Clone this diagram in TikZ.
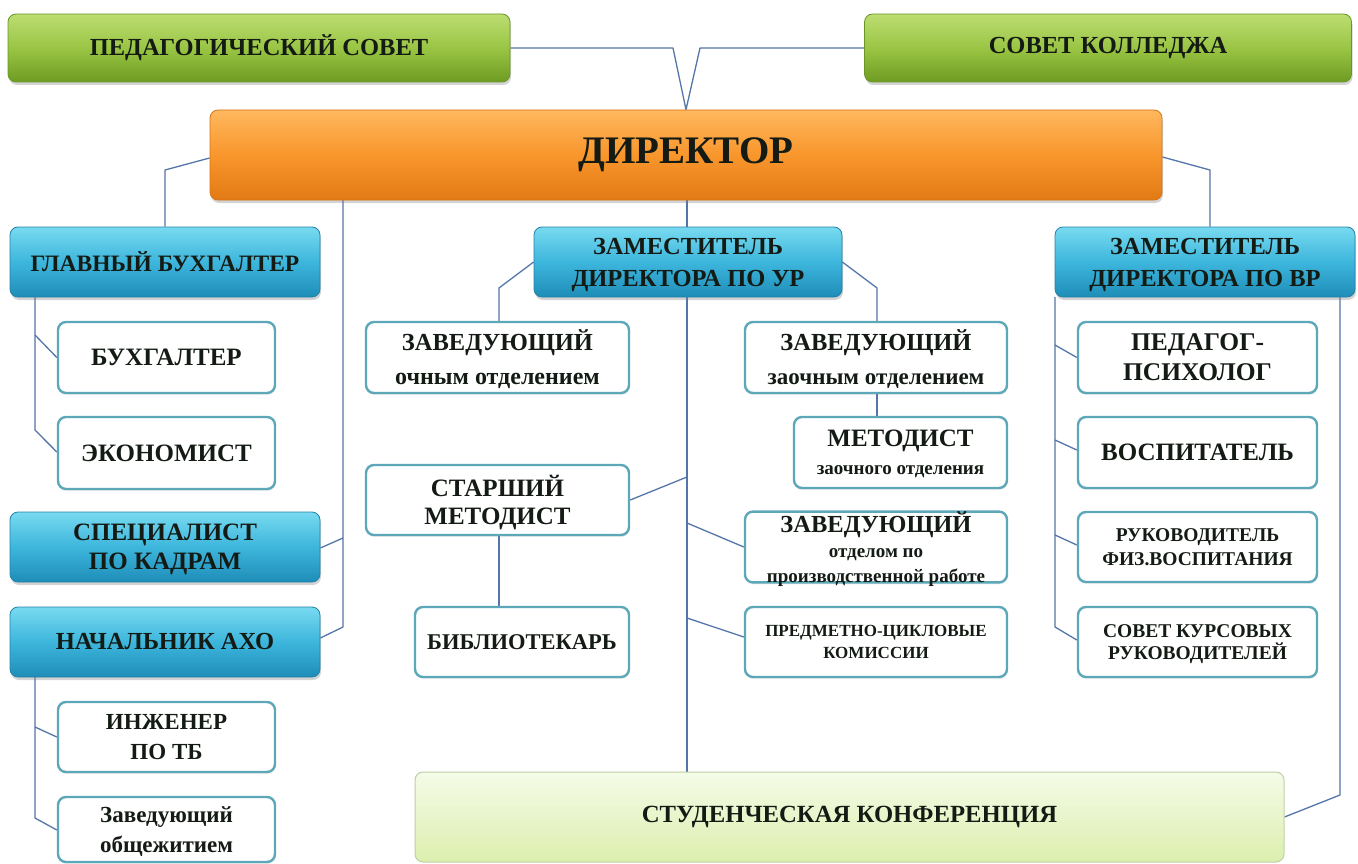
\documentclass[tikz,border=0pt]{standalone}
\usepackage{fontspec}
\setmainfont{Liberation Serif}
\usetikzlibrary{shadows}
\pgfdeclarelayer{background}
\pgfsetlayers{background,main}
\definecolor{ln}{HTML}{5475A8}
\definecolor{txt}{HTML}{141A14}
\definecolor{gT}{HTML}{BCDD72}
\definecolor{gM}{HTML}{9AC544}
\definecolor{gB}{HTML}{6E9C22}
\definecolor{gD}{HTML}{6A9628}
\definecolor{oT}{HTML}{FFB85E}
\definecolor{oM}{HTML}{F8962C}
\definecolor{oB}{HTML}{E27A14}
\definecolor{oD}{HTML}{D47418}
\definecolor{bT}{HTML}{78DAF0}
\definecolor{bM}{HTML}{3DB6DC}
\definecolor{bB}{HTML}{1E8DB8}
\definecolor{bD}{HTML}{2482A8}
\definecolor{wD}{HTML}{5CA8B8}
\definecolor{sT}{HTML}{F5FBE8}
\definecolor{sB}{HTML}{DCEFAE}
\definecolor{sD}{HTML}{BFCFA4}
\newcommand{\fs}[2]{\fontsize{#1}{#2}\selectfont}
\tikzset{
  conn/.style={draw=ln, line width=1.3pt, line join=round},
  base/.style={rounded corners=8pt, inner sep=0pt, align=center, text=txt},
  greenbox/.style={base, top color=gT, bottom color=gB, middle color=gM, draw=gD, line width=0.8pt,
    drop shadow={shadow xshift=1pt, shadow yshift=-3pt, opacity=0.35}},
  orangebox/.style={base, top color=oT, bottom color=oB, middle color=oM, draw=oD, line width=0.8pt,
    drop shadow={shadow xshift=1pt, shadow yshift=-3pt, opacity=0.35}},
  bluebox/.style={base, top color=bT, bottom color=bB, middle color=bM, draw=bD, line width=0.8pt,
    drop shadow={shadow xshift=1pt, shadow yshift=-3pt, opacity=0.35}},
  whitebox/.style={base, fill=white, draw=wD, line width=2.4pt,
    drop shadow={shadow xshift=0.5pt, shadow yshift=-2pt, opacity=0.15}},
  studbox/.style={base, top color=sT, bottom color=sB, draw=sD, line width=1pt},
  f/.style 2 args={font=\bfseries\fs{#1}{#2}},
  ml/.style={text depth=0pt},
}
\begin{document}
\begin{tikzpicture}[x=1pt,y=-1pt]
\useasboundingbox (0,0) rectangle (1358,864);
\coordinate (v1) at (673,48);
\coordinate (v2) at (700,48);
\coordinate (dlk) at (165,170);
\coordinate (drk) at (1210,170);
\coordinate (db) at (343,200);
\coordinate (dbs) at (343,538);
\coordinate (dba) at (343,627);
\coordinate (cb) at (687,200);
\coordinate (c1) at (687,477);
\coordinate (c2) at (687,523);
\coordinate (c3) at (687,618);
\coordinate (gl0) at (35,297);
\coordinate (gl1) at (35,335);
\coordinate (gl2) at (35,430);
\coordinate (al0) at (35,677);
\coordinate (al1) at (35,727);
\coordinate (al2) at (35,818);
\coordinate (zl) at (499,288);
\coordinate (zr) at (877,288);
\coordinate (vl0) at (1055,297);
\coordinate (vl1) at (1055,345);
\coordinate (vl2) at (1055,440);
\coordinate (vl3) at (1055,535);
\coordinate (vl4) at (1055,627);
\coordinate (vr0) at (1340,297);
\coordinate (vr1) at (1340,795);

\node[greenbox, f={24.5}{28}, minimum width=502pt, minimum height=68pt] (ped) at (259,48) {ПЕДАГОГИЧЕСКИЙ СОВЕТ};
\node[greenbox, f={24.5}{28}, minimum width=487pt, minimum height=68pt] (sovk) at (1108,48) {СОВЕТ КОЛЛЕДЖА};
\node[orangebox, f={39}{42}, minimum width=952pt, minimum height=90pt] (dir) at (686,155) {ДИРЕКТОР};

\node[bluebox, f={23.5}{26}, minimum width=310pt, minimum height=70pt] (glb) at (165,262) {ГЛАВНЫЙ БУХГАЛТЕР};
\node[whitebox, f={25}{28}, minimum width=217pt, minimum height=71pt] (buh) at (166.5,357.5) {БУХГАЛТЕР};
\node[whitebox, f={25}{28}, minimum width=217pt, minimum height=72pt] (eco) at (166.5,453) {ЭКОНОМИСТ};
\node[bluebox, ml, f={25}{29}, minimum width=310pt, minimum height=70pt] (spec) at (165,547) {СПЕЦИАЛИСТ\\ПО КАДРАМ};
\node[bluebox, f={24.5}{28}, minimum width=310pt, minimum height=70pt] (aho) at (165,642) {НАЧАЛЬНИК АХО};
\node[whitebox, ml, f={23}{30}, minimum width=217pt, minimum height=70pt] (ing) at (166.5,737) {ИНЖЕНЕР\\ПО ТБ};
\node[whitebox, ml, f={23}{30}, minimum width=217pt, minimum height=65pt] (obsh) at (166.5,829.5) {Заведующий\\общежитием};

\node[bluebox, ml, f={24.5}{32}, minimum width=308pt, minimum height=70pt] (zur) at (688,262) {ЗАМЕСТИТЕЛЬ\\ДИРЕКТОРА ПО УР};
\node[whitebox, ml, f={24.5}{34}, minimum width=263pt, minimum height=71pt] (zoch) at (497.5,357.5) {ЗАВЕДУЮЩИЙ\\\fs{24}{34}очным отделением};
\node[whitebox, ml, f={24.5}{34}, minimum width=262pt, minimum height=71pt] (zzaoch) at (876,357.5) {ЗАВЕДУЮЩИЙ\\\fs{23}{34}заочным отделением};
\node[whitebox, ml, f={25}{28}, minimum width=213pt, minimum height=71pt] (metz) at (900.5,452.5) {МЕТОДИСТ\\\fs{19}{28}заочного отделения};
\node[whitebox, ml, f={25}{28}, minimum width=263pt, minimum height=70pt] (stm) at (497.5,500) {СТАРШИЙ\\МЕТОДИСТ};
\node[whitebox, ml, f={24.5}{25}, minimum width=262pt, minimum height=70pt] (zprod) at (876,547) {ЗАВЕДУЮЩИЙ\\\fs{19}{25}отделом по\\\fs{19}{25}производственной работе};
\node[whitebox, f={22.5}{26}, minimum width=214pt, minimum height=70pt] (bib) at (522,642) {БИБЛИОТЕКАРЬ};
\node[whitebox, ml, f={17}{22}, minimum width=262pt, minimum height=70pt] (pck) at (876,642) {ПРЕДМЕТНО-ЦИКЛОВЫЕ\\КОМИССИИ};

\node[bluebox, ml, f={24.5}{32}, minimum width=300pt, minimum height=70pt] (zvr) at (1205,262) {ЗАМЕСТИТЕЛЬ\\ДИРЕКТОРА ПО ВР};
\node[whitebox, ml, f={25.5}{30}, minimum width=239pt, minimum height=71pt] (psy) at (1197.5,357.5) {ПЕДАГОГ-\\ПСИХОЛОГ};
\node[whitebox, f={25}{28}, minimum width=239pt, minimum height=71pt] (vos) at (1197.5,452.5) {ВОСПИТАТЕЛЬ};
\node[whitebox, ml, f={19.5}{24}, minimum width=239pt, minimum height=70pt] (ruk) at (1197.5,547) {РУКОВОДИТЕЛЬ\\ФИЗ.ВОСПИТАНИЯ};
\node[whitebox, ml, f={19.5}{22}, minimum width=239pt, minimum height=70pt] (skr) at (1197.5,642) {СОВЕТ КУРСОВЫХ\\РУКОВОДИТЕЛЕЙ};

\node[studbox, f={24.7}{28}, minimum width=869pt, minimum height=90pt] (stud) at (849.5,817) {СТУДЕНЧЕСКАЯ КОНФЕРЕНЦИЯ};

\begin{pgfonlayer}{background}
\draw[conn] (ped.east) -- (v1) -- (dir.north) -- (v2) -- (sovk.west);
\draw[conn] (dir.west |- 0,158) -- (dlk) -- (glb.north);
\draw[conn] (dir.east |- 0,157) -- (drk) -- (zvr.north -| drk);
\draw[conn] (db) -- (dba) -- (aho.east |- 0,638);
\draw[conn] (dbs) -- (spec.east |- 0,548);
\draw[conn] (cb) -- (stud.north -| cb);
\draw[conn] (zur.west) -- (zl) -- (zoch.north -| zl);
\draw[conn] (zur.east) -- (zr) -- (zzaoch.north -| zr);
\draw[conn] (zzaoch.south -| zr) -- (metz.north -| zr);
\draw[conn] (stm.east) -- (c1);
\draw[conn] (stm.south -| zl) -- (bib.north -| zl);
\draw[conn] (c2) -- (zprod.west);
\draw[conn] (c3) -- (pck.west |- 0,637);
\draw[conn] (gl0) -- (gl2) -- (eco.west |- 0,452);
\draw[conn] (gl1) -- (buh.west);
\draw[conn] (al0) -- (al2) -- (obsh.west |- 0,830);
\draw[conn] (al1) -- (ing.west);
\draw[conn] (vl0) -- (vl4) -- (skr.west |- 0,640);
\draw[conn] (vl1) -- (psy.west);
\draw[conn] (vl2) -- (vos.west |- 0,450);
\draw[conn] (vl3) -- (ruk.west |- 0,545);
\draw[conn] (vr0) -- (vr1) -- (stud.east);
\end{pgfonlayer}
\end{tikzpicture}
\end{document}
